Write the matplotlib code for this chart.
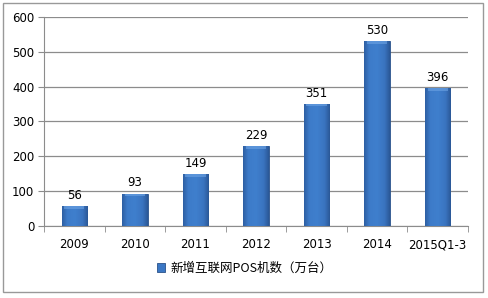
import matplotlib
matplotlib.use("Agg")
import numpy as np
import matplotlib.pyplot as plt
from matplotlib.patches import Rectangle
from matplotlib.colors import LinearSegmentedColormap

plt.rcParams['font.family'] = ['DejaVu Sans', 'Noto Sans CJK SC']

years = ['2009', '2010', '2011', '2012', '2013', '2014', '2015Q1-3']
pos_added = [56, 93, 149, 229, 351, 530, 396]
series_name = '新增互联网POS机数（万台）'

fig = plt.figure(figsize=(4.89, 2.98), dpi=100)
fig.patches.append(Rectangle((0.006, 0.02), 0.982, 0.97, transform=fig.transFigure,
                             fill=False, edgecolor='#999999', linewidth=1))
ax = fig.add_axes([0.090, 0.242, 0.867, 0.701])

x = range(len(years))
bars = ax.bar(x, pos_added, width=0.42, color='#3b77c4', edgecolor='#2a5189',
              linewidth=0.6, label=series_name, zorder=3)

# soft horizontal shading inside each bar, lighter bevel on top
cmap = LinearSegmentedColormap.from_list(
    'barshade', [(0, '#2e5fa3'), (0.2, '#3d7bc9'), (0.5, '#3f7fcd'), (0.8, '#3a74c0'), (1, '#2b5897')])
grad = np.linspace(0, 1, 64).reshape(1, -1)
for b in bars:
    bx, bw, bh = b.get_x(), b.get_width(), b.get_height()
    im = ax.imshow(grad, extent=[bx, bx + bw, 0, bh], aspect='auto', cmap=cmap,
                   origin='lower', zorder=3.5)
    im.set_clip_path(b)
    top = Rectangle((bx + bw * 0.1, bh - 8), bw * 0.8, 8, facecolor='#6ea4e4',
                    edgecolor='none', alpha=0.6, zorder=3.6)
    ax.add_patch(top)

for i, v in enumerate(pos_added):
    ax.text(i, v + 12, str(v), ha='center', va='bottom', fontsize=8.5, color='black')

ax.set_xlim(-0.5, len(years) - 0.5)
ax.set_ylim(0, 600)
ax.set_yticks(range(0, 601, 100))
ax.grid(axis='y', color='#8c8c8c', linewidth=0.9, zorder=0)
ax.set_xticks(list(x))
ax.set_xticklabels(years, fontsize=8.5)
ax.set_xticks([i - 0.5 for i in range(len(years) + 1)], minor=True)
ax.tick_params(axis='x', which='major', length=0, pad=9)
ax.tick_params(axis='x', which='minor', length=4, color='#8c8c8c')
ax.tick_params(axis='y', length=4, color='#8c8c8c', labelsize=8.5, pad=3)
for s in ['top', 'right']:
    ax.spines[s].set_visible(False)
for s in ['left', 'bottom']:
    ax.spines[s].set_color('#8c8c8c')

fig.legend(handles=[bars], labels=[series_name], loc='center', bbox_to_anchor=(0.5, 0.1),
           frameon=False, handlelength=0.7, handleheight=0.7, handletextpad=0.4,
           prop={'family': ['Noto Sans CJK SC', 'DejaVu Sans'], 'size': 9})

fig.savefig('out.png', dpi=100)
